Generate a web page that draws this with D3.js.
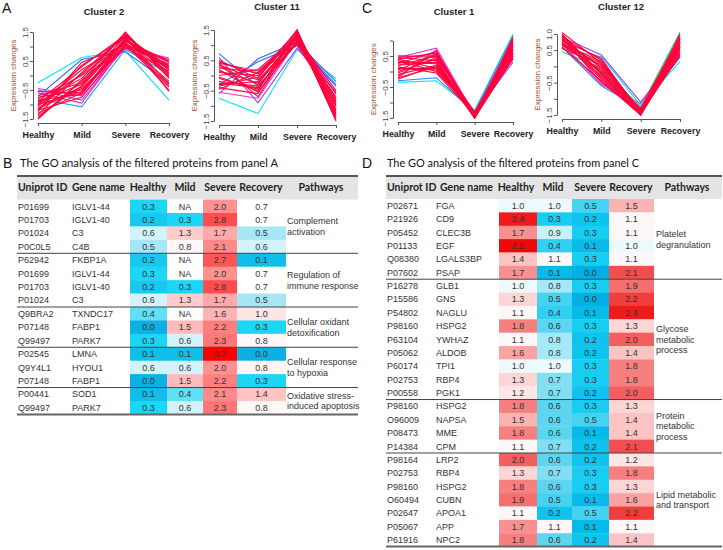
<!DOCTYPE html>
<html>
<head>
<meta charset="utf-8">
<script src="https://cdn.jsdelivr.net/npm/d3@7"></script>
<style>
  body { margin: 0; background: #fff; }
  svg { display: block; font-family: "Liberation Sans", Arial, sans-serif; }
</style>
</head>
<body>
<svg id="fig" width="723" height="550"></svg>
<script>
'use strict';

const stages = ["Healthy", "Mild", "Severe", "Recovery"];

// cluster profiles, one row per protein: Healthy, Mild, Severe, Recovery
const cluster2Values = [
    [-0.25, 0.62, 0.85, -0.85], [-0.72, 0.55, 0.82, -0.25], [-0.8, -1.08, 0.9, 0.05],
    [-0.5, -0.85, 1.0, 0.5], [-0.45, -0.7, 0.95, 0.6], [-0.6, -0.95, 1.05, 0.55],
    [-0.55, -0.6, 1.1, 0.35],
    [-1.45, -0.2, 1.5, -0.1], [-1.35, 0.1, 1.4, 0.0], [-1.2, 0.35, 1.3, -0.3],
    [-1.1, -0.4, 1.25, 0.2], [-1.0, -0.55, 1.2, 0.45], [-0.9, -0.3, 1.35, 0.3],
    [-0.8, 0.0, 1.15, -0.5], [-1.3, -0.6, 1.3, 0.1], [-1.0, 0.2, 1.1, -0.2],
    [-0.95, -0.1, 1.45, 0.05], [-1.15, -0.45, 1.0, 0.4], [-0.85, -0.65, 1.2, 0.25],
    [-1.25, 0.45, 1.05, -0.4], [-1.4, -0.35, 1.25, -0.05], [-0.75, -0.5, 0.95, 0.15],
    [-1.05, 0.05, 1.35, -0.55], [-0.7, -0.25, 1.2, 0.5], [-1.2, -0.75, 1.1, 0.3],
    [-0.9, 0.3, 1.4, 0.2], [-1.5, -0.15, 1.15, -0.35]
];
const cluster2Membership = [0.38, 0.46, 0.42, 0.54, 0.62, 0.64, 0.7,
    0.9, 0.85, 0.8, 0.9, 0.85, 0.95, 0.8, 0.9, 0.85, 0.95, 0.8, 0.9, 0.85, 0.9,
    0.8, 0.85, 0.9, 0.8, 0.95, 0.85];

const cluster11Values = [
    [-0.75, -1.25, 0.85, -0.1], [0.72, -0.35, 1.05, -0.3], [-0.6, 0.55, 1.1, -0.2],
    [-0.3, 0.45, 1.0, -0.35], [0.6, -0.9, 0.9, -0.55], [-0.55, -0.75, 1.15, -0.6],
    [0.4, 0.15, 1.2, -0.75],
    [0.5, -0.1, 1.5, -1.4], [0.3, -0.3, 1.4, -1.2], [0.1, 0.0, 1.3, -1.0],
    [-0.1, -0.45, 1.35, -1.5], [-0.3, -0.2, 1.25, -0.8], [-0.45, 0.1, 1.2, -1.3],
    [0.2, -0.55, 1.1, -0.9], [0.45, 0.05, 1.45, -1.1], [-0.2, -0.35, 1.05, -0.7],
    [0.0, 0.2, 1.3, -1.45], [-0.4, -0.6, 1.4, -1.0], [0.35, -0.15, 1.2, -0.6],
    [-0.05, -0.5, 1.5, -1.25], [0.25, 0.1, 1.0, -0.95], [-0.35, -0.05, 1.35, -1.35],
    [0.15, -0.25, 1.25, -0.5], [-0.25, -0.4, 1.15, -1.15], [0.4, -0.7, 1.3, -0.85]
];
const cluster11Membership = [0.38, 0.45, 0.47, 0.46, 0.53, 0.62, 0.66,
    0.9, 0.85, 0.8, 0.9, 0.85, 0.95, 0.8, 0.9, 0.85, 0.95, 0.8, 0.9, 0.85, 0.9,
    0.8, 0.85, 0.9, 0.8];

const cluster1Values = [
    [-0.35, -0.3, -1.25, 1.2], [-0.3, -0.2, -1.3, 1.15], [0.5, 0.45, -1.35, 0.3],
    [0.45, 0.75, -1.4, 0.45], [-0.2, 0.7, -1.45, 0.5],
    [0.4, 0.6, -1.5, 1.0], [0.3, 0.3, -1.4, 0.9], [0.2, 0.5, -1.45, 0.6],
    [0.1, 0.1, -1.35, 0.8], [0.0, 0.4, -1.5, 1.1], [-0.1, 0.2, -1.4, 0.7],
    [0.35, 0.0, -1.3, 0.5], [0.25, 0.65, -1.45, 0.85], [0.45, 0.35, -1.5, 0.95],
    [-0.2, 0.15, -1.35, 0.55], [0.15, -0.05, -1.4, 1.05], [0.05, 0.55, -1.5, 0.75],
    [0.3, 0.25, -1.45, 0.4], [-0.05, 0.45, -1.3, 0.65], [0.4, 0.1, -1.4, 0.9],
    [0.2, 0.3, -1.5, 0.6], [-0.15, 0.6, -1.45, 0.8], [0.1, 0.05, -1.35, 1.0],
    [0.5, 0.5, -1.4, 0.7], [-0.25, 0.2, -1.5, 0.45]
];
const cluster1Membership = [0.38, 0.44, 0.53, 0.6, 0.64,
    0.9, 0.85, 0.8, 0.9, 0.85, 0.95, 0.8, 0.9, 0.85, 0.95, 0.8, 0.9, 0.85, 0.9,
    0.8, 0.85, 0.9, 0.8, 0.95, 0.85];

const cluster12Values = [
    [0.45, -0.05, -1.25, 1.05], [0.55, 0.3, -1.2, 0.15], [0.6, -0.6, -1.3, 0.3],
    [0.9, 0.35, -1.1, 0.4], [0.7, -0.55, -1.15, 0.6],
    [1.05, 0.1, -1.5, 0.9], [0.95, -0.2, -1.45, 0.7], [0.9, 0.2, -1.4, 0.5],
    [0.85, -0.4, -1.5, 0.85], [0.8, 0.0, -1.35, 0.4], [0.75, -0.3, -1.45, 1.0],
    [0.7, 0.15, -1.4, 0.6], [0.65, -0.1, -1.3, 0.3], [0.6, -0.45, -1.5, 0.75],
    [1.0, -0.25, -1.45, 0.55], [0.55, 0.05, -1.35, 0.65], [0.9, -0.5, -1.4, 0.8],
    [0.8, 0.25, -1.5, 0.45], [0.7, -0.15, -1.3, 0.95], [0.95, -0.35, -1.45, 0.35],
    [0.65, 0.1, -1.4, 0.7], [0.85, -0.05, -1.5, 0.6], [0.75, -0.2, -1.35, 0.85]
];
const cluster12Membership = [0.3, 0.38, 0.45, 0.53, 0.6,
    0.9, 0.85, 0.8, 0.9, 0.85, 0.95, 0.8, 0.9, 0.85, 0.95, 0.8, 0.9, 0.85, 0.9,
    0.8, 0.85, 0.9, 0.8];

// table B (proteins from panel A)
const idsA = ["P01699", "P01703", "P01024", "P0C0L5", "P62942", "P01699", "P01703", "P01024",
    "Q9BRA2", "P07148", "Q99497", "P02545", "Q9Y4L1", "P07148", "P00441", "Q99497"];
const genesA = ["IGLV1-44", "IGLV1-40", "C3", "C4B", "FKBP1A", "IGLV1-44", "IGLV1-40", "C3",
    "TXNDC17", "FABP1", "PARK7", "LMNA", "HYOU1", "FABP1", "SOD1", "PARK7"];
const healthyA = [0.3, 0.2, 0.6, 0.5, 0.2, 0.3, 0.2, 0.6, 0.4, 0.0, 0.3, 0.1, 0.6, 0.0, 0.1, 0.3];
const mildA = [null, 0.3, 1.3, 0.8, null, null, 0.3, 1.3, null, 1.5, 0.6, 0.1, 0.6, 1.5, 0.4, 0.6];
const severeA = [2.0, 2.8, 1.7, 2.1, 2.7, 2.0, 2.8, 1.7, 1.6, 2.2, 2.3, 3.7, 2.0, 2.2, 2.1, 2.3];
const recoveryA = [0.7, 0.7, 0.5, 0.6, 0.1, 0.7, 0.7, 0.5, 1.0, 0.3, 0.8, 0.0, 0.8, 0.3, 1.4, 0.8];
const pathwaysA = [["Complement", "activation"], ["Regulation of", "immune response"],
    ["Cellular oxidant", "detoxification"], ["Cellular response", "to hypoxia"],
    ["Oxidative stress-", "induced apoptosis"]];
const pathwaySizesA = [4, 4, 3, 3, 2];

// table D (proteins from panel C)
const idsC = ["P02671", "P21926", "P05452", "P01133", "Q08380", "P07602",
    "P16278", "P15586", "P54802", "P98160", "P63104", "P05062", "P60174", "P02753", "P00558",
    "P98160", "O96009", "P08473", "P14384",
    "P98164", "P02753", "P98160", "O60494", "P02647", "P05067", "P61916"];
const genesC = ["FGA", "CD9", "CLEC3B", "EGF", "LGALS3BP", "PSAP",
    "GLB1", "GNS", "NAGLU", "HSPG2", "YWHAZ", "ALDOB", "TPI1", "RBP4", "PGK1",
    "HSPG2", "NAPSA", "MME", "CPM",
    "LRP2", "RBP4", "HSPG2", "CUBN", "APOA1", "APP", "NPC2"];
const healthyC = [1.0, 2.4, 1.7, 2.5, 1.4, 1.7, 1.0, 1.3, 1.1, 1.8, 1.1, 1.6, 1.0, 1.3, 1.2,
    1.8, 1.5, 1.8, 1.1, 2.0, 1.3, 1.8, 1.9, 1.1, 1.7, 1.8];
const mildC = [1.0, 0.3, 0.9, 0.4, 1.1, 0.1, 0.8, 0.5, 0.4, 0.6, 0.8, 0.8, 1.0, 0.7, 0.7,
    0.6, 0.6, 0.6, 0.7, 0.6, 0.7, 0.6, 0.5, 0.2, 1.1, 0.6];
const severeC = [0.5, 0.2, 0.3, 0.1, 0.3, 0.0, 0.3, 0.0, 0.1, 0.3, 0.2, 0.2, 0.3, 0.3, 0.2,
    0.3, 0.5, 0.1, 0.2, 0.2, 0.3, 0.3, 0.1, 0.5, 0.1, 0.2];
const recoveryC = [1.5, 1.1, 1.1, 1.0, 1.1, 2.1, 1.9, 2.2, 2.4, 1.3, 2.0, 1.4, 1.8, 1.8, 2.0,
    1.3, 1.4, 1.4, 2.1, 1.2, 1.8, 1.3, 1.6, 2.2, 1.1, 1.4];
const pathwaysC = [["Platelet", "degranulation"], ["Glycose", "metabolic", "process"],
    ["Protein", "metabolic", "process"], ["Lipid metabolic", "and transport"]];
const pathwaySizesC = [6, 9, 4, 7];

const svg = d3.select('#fig');
const fmt = d3.format('.1f');
const textColor = '#333';

const memberColor = d3.scaleLinear()
    .domain([0.3, 0.38, 0.46, 0.54, 0.62, 0.72])
    .range(["#00e070", "#00e4ff", "#2a66ff", "#a040ff", "#ff2ad0", "#ff003c"])
    .clamp(true);

function drawCluster(opt) {
    const g = svg.append('g');
    const x = d3.scalePoint().domain(stages).range(opt.xr);
    const y = d3.scaleLinear().domain(opt.yd).range(opt.yr);
    const line = d3.line().x((v, i) => x(stages[i])).y(v => y(v));

    // low membership first so the red bundle sits on top
    const order = d3.range(opt.values.length)
        .sort((a, b) => opt.member[a] - opt.member[b]);

    g.selectAll('path.profile')
        .data(order)
        .join('path')
        .attr('class', 'profile')
        .attr('d', i => line(opt.values[i]))
        .attr('fill', 'none')
        .attr('stroke', i => memberColor(opt.member[i]))
        .attr('stroke-width', 1.1);

    const axisX = opt.xr[0] - 5;
    const axisY = y(opt.yd[0]) + 4;

    const yAxis = g.append('g')
        .attr('transform', `translate(${axisX},0)`)
        .call(d3.axisLeft(y)
            .tickValues(d3.range(opt.yd[0], opt.yd[1] + 0.01, 0.5))
            .tickFormat(d => opt.labels.some(l => Math.abs(l - d) < 1e-6) ? fmt(d) : '')
            .tickSize(3)
            .tickSizeOuter(0));
    yAxis.selectAll('text')
        .attr('x', null).attr('dy', null)
        .attr('text-anchor', 'middle')
        .attr('transform', 'translate(-5,0) rotate(-90)');

    const xAxis = g.append('g')
        .attr('transform', `translate(0,${axisY})`)
        .call(d3.axisBottom(x).tickSize(3).tickSizeOuter(0));
    xAxis.selectAll('text')
        .attr('y', 15).attr('dy', null)
        .attr('font-weight', 'bold')
        .attr('font-size', 8.8)
        .attr('fill', '#222');

    [yAxis, xAxis].forEach(a => {
        a.attr('font-family', null).attr('font-size', null);
        a.selectAll('path, line').attr('stroke', '#555');
    });
    yAxis.selectAll('text').attr('font-size', 8).attr('fill', '#444');

    g.append('text')
        .attr('transform', `translate(${axisX - 20},${(opt.yr[0] + opt.yr[1]) / 2}) rotate(-90)`)
        .attr('text-anchor', 'middle')
        .attr('dominant-baseline', 'central')
        .attr('font-size', 8)
        .attr('fill', '#a0522d')
        .text('Expression changes');

    g.append('text')
        .attr('x', opt.titleX).attr('y', opt.titleY)
        .attr('text-anchor', 'middle')
        .attr('font-weight', 'bold')
        .attr('font-size', 9.5)
        .attr('fill', '#222')
        .text(opt.title);
}

function drawTable(opt) {
    const g = svg.append('g');
    const n = opt.ids.length;
    const row = d3.scaleBand().domain(d3.range(n)).range([opt.top, opt.bottom]);
    const colX = d3.scaleOrdinal(stages, opt.edges.slice(0, 4));
    const colW = d3.scaleOrdinal(stages, d3.pairs(opt.edges).map(([a, b]) => b - a));

    // header band and rules
    g.append('rect')
        .attr('x', opt.left).attr('y', opt.headerTop)
        .attr('width', opt.right - opt.left).attr('height', opt.top - opt.headerTop)
        .attr('fill', '#e4e4e4');
    g.append('line')
        .attr('x1', opt.left).attr('x2', opt.right)
        .attr('y1', opt.headerTop).attr('y2', opt.headerTop)
        .attr('stroke', '#555').attr('stroke-width', 2);

    const hy = (opt.headerTop + opt.top) / 2 + 3.6;
    const header = g.append('g')
        .attr('font-family', 'Lato, "Open Sans", sans-serif')
        .attr('font-weight', 'bold').attr('font-size', 10.5).attr('fill', '#222');
    header.append('text').attr('x', opt.idX).attr('y', hy).text('Uniprot ID');
    header.append('text').attr('x', opt.geneHeadX).attr('y', hy).text('Gene name');
    header.selectAll('text.stage')
        .data(stages)
        .join('text')
        .attr('class', 'stage')
        .attr('x', (d, i) => opt.headCenters[i]).attr('y', hy)
        .attr('text-anchor', 'middle')
        .text(d => d);
    header.append('text').attr('x', opt.pathHeadX).attr('y', hy)
        .attr('text-anchor', 'middle').text('Pathways');

    // coloured value cells
    const cells = [];
    opt.series.forEach((vals, s) => vals.forEach((v, r) => cells.push({stage: stages[s], r, v})));

    g.selectAll('rect.cell')
        .data(cells)
        .join('rect')
        .attr('class', 'cell')
        .attr('x', d => colX(d.stage))
        .attr('y', d => row(d.r))
        .attr('width', d => colW(d.stage))
        .attr('height', row.bandwidth() + 0.3)
        .attr('fill', d => d.v === null ? '#fff' : opt.color(d.v));

    const body = g.append('g').attr('font-size', 9).attr('fill', textColor);

    body.selectAll('text.val')
        .data(cells)
        .join('text')
        .attr('class', 'val')
        .attr('x', d => colX(d.stage) + colW(d.stage) / 2)
        .attr('y', d => row(d.r) + row.bandwidth() / 2 + 3.2)
        .attr('text-anchor', 'middle')
        .text(d => d.v === null ? 'NA' : fmt(d.v));

    body.selectAll('text.id')
        .data(opt.ids)
        .join('text')
        .attr('class', 'id')
        .attr('x', opt.idX)
        .attr('y', (d, i) => row(i) + row.bandwidth() / 2 + 3.2)
        .text(d => d);

    body.selectAll('text.gene')
        .data(opt.genes)
        .join('text')
        .attr('class', 'gene')
        .attr('x', opt.geneX)
        .attr('y', (d, i) => row(i) + row.bandwidth() / 2 + 3.2)
        .text(d => d);

    // pathway groups
    const starts = [0, ...d3.cumsum(opt.sizes)];
    const lh = 10.4;
    opt.pathways.forEach((lines, k) => {
        const a = starts[k], b = starts[k + 1];
        const mid = (row(a) + row(b - 1) + row.bandwidth()) / 2;
        body.selectAll(null)
            .data(lines)
            .join('text')
            .attr('x', opt.pathX)
            .attr('y', (d, j) => mid + (j - (lines.length - 1) / 2) * lh + 3.2)
            .text(d => d);
        const yLine = row(b - 1) + row.bandwidth();
        const last = k === opt.pathways.length - 1;
        g.append('line')
            .attr('x1', opt.left).attr('x2', opt.right)
            .attr('y1', yLine).attr('y2', yLine)
            .attr('stroke', last ? '#666' : '#444')
            .attr('stroke-width', last ? 2 : 1);
    });

    svg.append('text')
        .attr('x', opt.titleX).attr('y', opt.titleY)
        .attr('font-family', 'Lato, "Open Sans", sans-serif')
        .attr('font-size', 11.5).attr('fill', '#111')
        .attr('textLength', opt.titleW).attr('lengthAdjust', 'spacingAndGlyphs')
        .text(opt.title);
}

drawCluster({title: 'Cluster 2', values: cluster2Values, member: cluster2Membership,
    xr: [38, 169], yd: [-1.5, 1.5], yr: [119, 32], labels: [-1.5, -0.5, 0.5, 1.5],
    titleX: 104, titleY: 15});
drawCluster({title: 'Cluster 11', values: cluster11Values, member: cluster11Membership,
    xr: [219, 336], yd: [-1.5, 1.5], yr: [121, 30], labels: [-1.5, -0.5, 0.5, 1.5],
    titleX: 277, titleY: 10});
drawCluster({title: 'Cluster 1', values: cluster1Values, member: cluster1Membership,
    xr: [398, 513], yd: [-1.5, 1.0], yr: [118, 40.5], labels: [-1.5, -0.5, 0.5],
    titleX: 454, titleY: 15});
drawCluster({title: 'Cluster 12', values: cluster12Values, member: cluster12Membership,
    xr: [562, 680], yd: [-1.5, 1.0], yr: [115, 34], labels: [-1.5, -0.5, 0.5, 1.0],
    titleX: 621, titleY: 10});

const colorA = d3.scaleLinear()
    .domain([0, 0.3, 0.5, 0.7, 3.7])
    .range(["#0cb0e2", "#1cd6f6", "#a6e7f6", "#ffffff", "#ff0000"]);
const colorC = d3.scaleLinear()
    .domain([0, 0.3, 0.6, 1.05, 2.5])
    .range(["#00b0e4", "#18cdf2", "#5dd5f0", "#ffffff", "#ee0a0a"]);

drawTable({ids: idsA, genes: genesA, series: [healthyA, mildA, severeA, recoveryA],
    pathways: pathwaysA, sizes: pathwaySizesA, color: colorA,
    left: 17, right: 358, headerTop: 176, top: 199.6, bottom: 414.4,
    idX: 18, geneX: 72, geneHeadX: 72, edges: [130, 167, 203, 237, 286],
    headCenters: [148, 185, 220, 261], pathHeadX: 321, pathX: 287,
    title: 'The GO analysis of the filtered proteins from panel A', titleX: 20, titleY: 167, titleW: 258});
drawTable({ids: idsC, genes: genesC, series: [healthyC, mildC, severeC, recoveryC],
    pathways: pathwaysC, sizes: pathwaySizesC, color: colorC,
    left: 386, right: 722, headerTop: 176, top: 199, bottom: 546.6,
    idX: 387, geneX: 436, geneHeadX: 440, edges: [499, 537, 572, 609, 654],
    headCenters: [516, 553, 590, 631], pathHeadX: 687, pathX: 656,
    title: 'The GO analysis of the filtered proteins from panel C', titleX: 387, titleY: 167, titleW: 252});

// panel letters
svg.selectAll('text.panel')
    .data([['A', 2, 13], ['B', 3, 168], ['C', 362, 13], ['D', 362, 168]])
    .join('text')
    .attr('class', 'panel')
    .attr('x', d => d[1]).attr('y', d => d[2])
    .attr('font-size', 14).attr('fill', '#111')
    .text(d => d[0]);
</script>
</body>
</html>
